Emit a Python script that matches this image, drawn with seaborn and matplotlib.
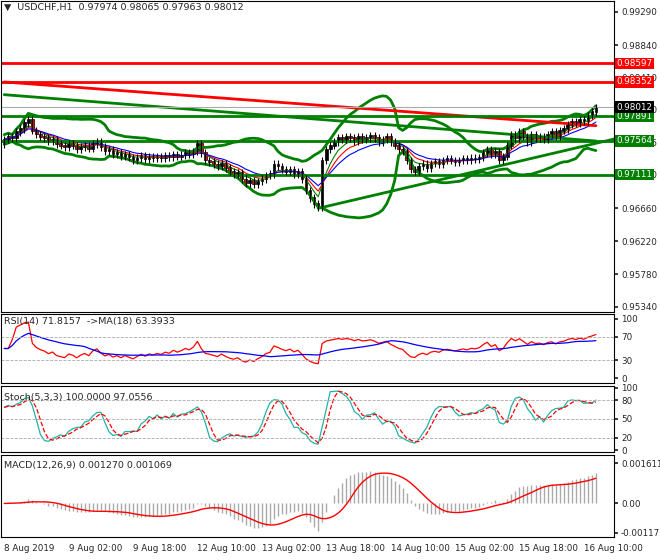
import matplotlib
matplotlib.use("Agg")
import matplotlib.pyplot as plt
import seaborn as sns
import numpy as np
import pandas as pd

sns.set_theme(style="white")
plt.rcParams['font.family'] = ['DejaVu Sans']

closes = [0.9758,0.9762,0.9760,0.9768,0.9772,0.9780,0.9785,0.9770,0.9765,0.9762,
0.9760,0.9756,0.9758,0.9752,0.9750,0.9748,0.9752,0.9750,0.9745,0.9748,
0.9750,0.9746,0.9752,0.9755,0.9748,0.9742,0.9744,0.9738,0.9740,0.9735,
0.9738,0.9734,0.9730,0.9733,0.9736,0.9732,0.9735,0.9733,0.9735,0.9733,
0.9736,0.9734,0.9738,0.9735,0.9737,0.9740,0.9738,0.9742,0.9752,0.9740,
0.9730,0.9728,0.9725,0.9722,0.9726,0.9720,0.9715,0.9712,0.9714,0.9705,
0.9700,0.9703,0.9698,0.9702,0.9705,0.9710,0.9712,0.9725,0.9722,0.9718,
0.9715,0.9718,0.9712,0.9715,0.9705,0.9690,0.9680,0.9672,0.9668,0.9730,
0.9745,0.9750,0.9755,0.9760,0.9758,0.9762,0.9760,0.9756,0.9762,0.9758,
0.9760,0.9763,0.9760,0.9755,0.9758,0.9762,0.9755,0.9750,0.9745,0.9742,
0.9730,0.9718,0.9715,0.9722,0.9725,0.9720,0.9726,0.9728,0.9725,0.9730,
0.9732,0.9730,0.9728,0.9730,0.9732,0.9730,0.9733,0.9732,0.9734,0.9740,
0.9745,0.9738,0.9742,0.9730,0.9735,0.9750,0.9765,0.9760,0.9768,0.9762,
0.9755,0.9765,0.9760,0.9762,0.9758,0.9765,0.9768,0.9763,0.9770,0.9772,
0.9778,0.9782,0.9780,0.9785,0.9783,0.9790,0.9795,0.9801]
first_open = 0.9752
tick_labels = ["8 Aug 2019","9 Aug 02:00","9 Aug 18:00","12 Aug 10:00","13 Aug 02:00",
               "13 Aug 18:00","14 Aug 10:00","15 Aug 02:00","15 Aug 18:00","16 Aug 10:00"]
red_levels = [0.98597, 0.98352]
green_levels = [0.97891, 0.97564, 0.97111]
last_price = 0.98012
trend_x = [78, 153]; trend_y = [0.9666, 0.97605]
long_red_y = [0.9835, 0.97765]
long_green_y = [0.9818, 0.97560]
price_ticks = [0.99290,0.98840,0.98410,0.97980,0.97545,0.97110,0.96660,0.96220,0.95780,0.95340]

c = pd.Series(closes)
n = len(c)
idx = np.arange(n)
o = pd.Series([first_open] + closes[:-1])
hi = np.maximum(o, c) + 0.0005
lo = np.minimum(o, c) - 0.0005

W, H = 660, 560
FS = 6.3
fig = plt.figure(figsize=(6.6, 5.6), dpi=100)
def ax_px(x0, y0, x1, y1):
    return fig.add_axes([x0/W, 1-y1/H, (x1-x0)/W, (y1-y0)/H])

XL = (-0.8, 151.5)
ax = ax_px(1, 1, 614, 312)
ax.set_xlim(XL); ax.set_ylim(0.95273, 0.99433)
mid = c.rolling(20, min_periods=1).mean()
sd = c.rolling(20, min_periods=2).std().bfill()
ax.plot(idx, mid + 2.3*sd, color='green', lw=2)
ax.plot(idx, mid - 2.3*sd, color='green', lw=2)
ax.plot(idx, c.ewm(span=5).mean(), color='green', lw=0.8)
ax.plot(idx, c.ewm(span=8).mean(), color='red', lw=0.8)
ax.plot(idx, c.ewm(span=13).mean(), color='blue', lw=0.8)
ax.plot([0, n-1], long_red_y, color='red', lw=2)
ax.plot([0, n-1], long_green_y, color='green', lw=2)
ax.plot(trend_x, trend_y, color='green', lw=2)
for y in red_levels:
    ax.axhline(y, color='red', lw=2)
for y in green_levels:
    ax.axhline(y, color='green', lw=2)
ax.axhline(last_price, color='#aaaaaa', lw=0.8)
for i in range(n):
    col = 'black' if c[i] >= o[i] else 'red'
    ax.vlines(i, lo[i], hi[i], color='black', lw=0.8)
    ax.bar(i, abs(c[i]-o[i]) + 0.00008, bottom=min(c[i], o[i]), width=0.65, color=col, edgecolor='black', lw=0.5)
ax.yaxis.tick_right()
ax.set_yticks(price_ticks)
ax.set_yticklabels([f"{t:.5f}" for t in price_ticks], fontsize=FS)
ax.tick_params(axis='y', pad=2, length=3)
ax.set_xticks([])
def tag(axx, y, txt, fc, tc='white'):
    axx.text(1.004, y, txt, transform=axx.get_yaxis_transform(), fontsize=FS, color=tc,
             va='center', ha='left', bbox=dict(boxstyle='square,pad=0.15', fc=fc, ec='none'), zorder=10, clip_on=False)
for y in red_levels: tag(ax, y, f"{y:.5f}", 'red')
for y in green_levels: tag(ax, y, f"{y:.5f}", 'green')
tag(ax, last_price, f"{last_price:.5f}", 'black')
ax.text(0.005, 0.995, "▼  USDCHF,H1  0.97974 0.98065 0.97963 0.98012", transform=ax.transAxes, fontsize=FS+0.5, va='top')

d = c.diff().fillna(0)
up = d.clip(lower=0).ewm(alpha=1/14, min_periods=3).mean(); dn = (-d.clip(upper=0)).ewm(alpha=1/14, min_periods=3).mean()
rsi = (100 - 100/(1 + up/(dn + 1e-9))).fillna(50)
axr = ax_px(1, 314, 614, 383)
axr.plot(idx, rsi, color='red', lw=0.9)
axr.plot(idx, rsi.rolling(18, min_periods=1).mean(), color='blue', lw=0.9)
axr.set_xlim(XL); axr.set_ylim(-8, 108)
for y in [30, 70]: axr.axhline(y, color='#aaaaaa', ls='--', lw=0.6)
axr.yaxis.tick_right(); axr.set_yticks([0, 30, 70, 100]); axr.tick_params(labelsize=FS, pad=2, length=3); axr.set_xticks([])
axr.text(0.005, 0.95, "RSI(14) 71.8157  ->MA(18) 63.3933", transform=axr.transAxes, fontsize=FS+0.5, va='top')

hh = pd.Series(hi).rolling(5, min_periods=1).max(); ll = pd.Series(lo).rolling(5, min_periods=1).min()
k = (100*(c-ll)/(hh-ll)).rolling(3, min_periods=1).mean()
dd = k.rolling(3, min_periods=1).mean()
axs = ax_px(1, 386, 614, 452)
axs.plot(idx, k, color='#20b2aa', lw=0.9)
axs.plot(idx, dd, color='red', ls='--', lw=0.9)
axs.set_xlim(XL); axs.set_ylim(-3, 103)
for y in [20, 50, 80]: axs.axhline(y, color='#aaaaaa', ls='--', lw=0.6)
axs.yaxis.tick_right(); axs.set_yticks([0, 20, 50, 80, 100]); axs.tick_params(labelsize=FS, pad=2, length=3); axs.set_xticks([])
axs.text(0.005, 0.9, "Stoch(5,3,3) 100.0000 97.0556", transform=axs.transAxes, fontsize=FS+0.5, va='top')

macd = c.ewm(span=12).mean() - c.ewm(span=26).mean()
sig = macd.rolling(9, min_periods=1).mean()
axm = ax_px(1, 455, 614, 537)
axm.vlines(idx, 0, macd, color='#aaaaaa', lw=1)
axm.plot(idx, sig, color='red', lw=1)
axm.set_xlim(XL); axm.set_ylim(-0.00135, 0.00195)
axm.yaxis.tick_right(); axm.set_yticks([-0.001173, 0, 0.001611])
axm.set_yticklabels(["-0.001173", "0.00", "0.001611"]); axm.tick_params(labelsize=FS, pad=2, length=3)
axm.text(0.005, 0.93, "MACD(12,26,9) 0.001270 0.001069", transform=axm.transAxes, fontsize=FS+0.5, va='top')
axm.set_xticks(np.arange(0, 160, 16))
axm.set_xticklabels(tick_labels, fontsize=FS, ha='left')
axm.tick_params(axis='x', length=3, pad=2)
for a in [ax, axr, axs, axm]:
    for s in a.spines.values(): s.set_color('black'); s.set_linewidth(0.8)
fig.savefig("out.png", dpi=100)
